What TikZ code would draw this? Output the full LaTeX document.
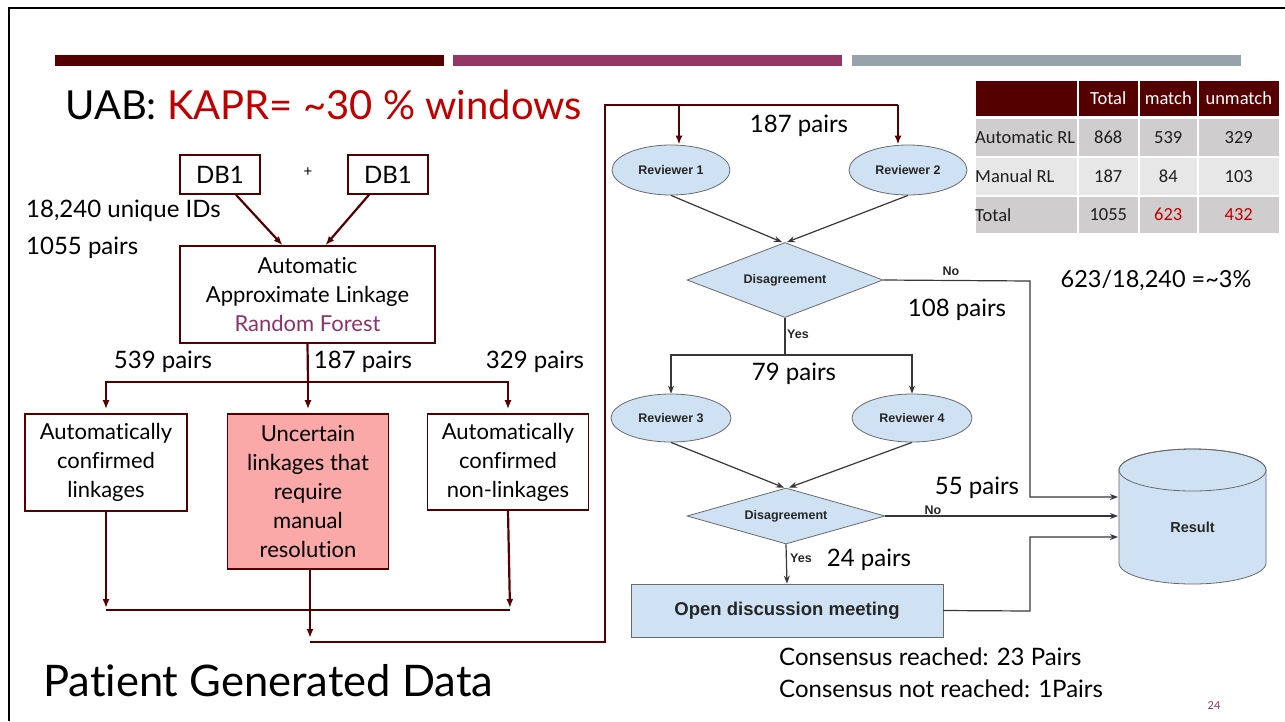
\documentclass[tikz,border=0pt]{standalone}
\usepackage{fontspec}
\setmainfont{Lato}[Ligatures=NoCommon]
\newfontfamily\flowfont{Liberation Sans}
\newfontfamily\tabfont{Carlito}[Ligatures=NoCommon]
\usetikzlibrary{shapes.geometric,arrows.meta}

\definecolor{maroon}{RGB}{85,0,0}
\definecolor{plum}{RGB}{148,54,100}
\definecolor{slate}{RGB}{152,162,171}
\definecolor{titlered}{RGB}{192,0,0}
\definecolor{pinkfill}{RGB}{250,168,168}
\definecolor{flowblue}{RGB}{207,226,243}
\definecolor{flowedge}{RGB}{105,105,105}
\definecolor{flowline}{RGB}{55,55,55}
\definecolor{cellA}{RGB}{207,205,205}
\definecolor{cellB}{RGB}{232,231,231}
\definecolor{forest}{RGB}{140,50,105}
\definecolor{celltext}{RGB}{30,30,30}

\newcommand\setfs[2]{\fontsize{#1}{#2}\selectfont}

\begin{document}
\begin{tikzpicture}[x=1pt,y=-1pt,
  lbox/.style={draw=maroon, line width=1.6pt, align=center, inner sep=0pt, font=\setfs{22}{29}},
  lbl/.style={inner sep=0pt, font=\setfs{24}{29}},
  larrow/.style={draw=maroon, line width=2.2pt, -{Latex[length=9pt,width=7pt]}},
  lline/.style={draw=maroon, line width=2.2pt},
  flownode/.style={draw=flowedge, fill=flowblue, line width=0.8pt, inner sep=0pt,
                   font=\flowfont\bfseries\setfs{12.5}{14}, text=black!85},
  flowlbl/.style={inner sep=0pt, font=\flowfont\bfseries\setfs{12.5}{14}, text=black!85},
  farrow/.style={draw=flowline, line width=1.2pt, -{Stealth[length=8pt,width=6pt]}},
  fline/.style={draw=flowline, line width=1.2pt},
  cell/.style={draw=white, line width=1.5pt, inner sep=0pt, anchor=north west,
               text=celltext, font=\tabfont\setfs{18.5}{20}},
]
\useasboundingbox (0,0) rectangle (1285,721);

% slide frame and header bars
\draw[line width=2.5pt] (9,721) -- (9,8) -- (1285,8);
\fill[maroon] (55,55) rectangle (444,66);
\fill[plum]   (453,55) rectangle (842,66);
\fill[slate]  (852,55) rectangle (1241,66);

% titles
\node[anchor=base west, inner sep=0pt, font=\setfs{40}{40}] (title) at (65,119)
  {UAB: \textcolor{titlered}{KAPR= \textasciitilde30 \% windows}};
\node[anchor=base west, inner sep=0pt, font=\setfs{43.5}{44}] (footer) at (43,696)
  {Patient Generated Data};

% ---------- automatic linkage pipeline ----------
\node[lbox, font=\setfs{24}{29}, minimum width=80, minimum height=39] (dba) at (220,174.5) {DB1};
\node[lbox, font=\setfs{24}{29}, minimum width=80, minimum height=39] (dbb) at (388,174.5) {DB1};
\node[inner sep=0pt, font=\setfs{15}{15}] (plus) at (308,172) {+};
\node[lbl, anchor=west] (ids) at (26,211) {18,240 unique IDs};
\node[lbl, anchor=west] (prs) at (26,248) {1055 pairs};

\node[lbox, minimum width=255, minimum height=97] (auto) at (307.5,294.5)
  {Automatic\\Approximate Linkage\\\textcolor{forest}{Random Forest}};

\draw[larrow] ([xshift=16]dba.south) -- ([xshift=-25]auto.north);
\draw[larrow] ([xshift=-19]dbb.south) -- ([xshift=18]auto.north);

\node[lbox, minimum width=162, minimum height=97] (conf) at (106,462.5)
  {Automatically\\confirmed\\linkages};
\node[lbox, fill=pinkfill, minimum width=161, minimum height=155] (unc) at (308,491.5)
  {Uncertain\\linkages that\\require\\manual\\resolution};
\node[lbox, minimum width=161, minimum height=96] (nonl) at (508,462)
  {Automatically\\confirmed\\non-linkages};

\node[lbl] (l539) at (163,362) {539 pairs};
\node[lbl] (l187) at (363,362) {187 pairs};
\node[lbl] (l329) at (535,362) {329 pairs};

\coordinate (split) at (308,382);
\draw[lline] (auto.south) -- (split);
\draw[larrow, shorten >=4pt] (split) -| (conf.north);
\draw[larrow, shorten >=4pt] (split) -| (nonl.north);
\draw[larrow, shorten >=4pt] (split) -- (unc.north);

\coordinate (mergeL) at (106,610);
\coordinate (mergeR) at (510,610);
\draw[larrow, shorten >=2pt] (conf.south) -- (mergeL);
\draw[larrow, shorten >=2pt] (nonl.south) -- (mergeR);
\draw[lline] (mergeL) -- (mergeR);

\coordinate (loopS) at (310,642);
\coordinate (loopC) at (605,642);
\coordinate (loopT) at (605,105);
\coordinate (topA) at (679,105);
\coordinate (topB) at (898,105);
\draw[larrow, shorten >=4pt] (unc.south -| loopS) -- (loopS);
\draw[lline] (loopS) -- (loopC) -- (loopT) -- (topB);

% ---------- manual review flow ----------
\node[flownode, ellipse, minimum width=118, minimum height=50] (rv1) at (671,170) {Reviewer 1};
\node[flownode, ellipse, minimum width=118, minimum height=50] (rv2) at (908,170) {Reviewer 2};
\draw[larrow] (topA) -- (topA |- rv1.north);
\draw[larrow] (topB) -- (topB |- rv2.north);
\node[lbl] (l187b) at (799,126) {187 pairs};

\node[flownode, diamond, aspect=2.6, minimum width=196, minimum height=75] (dis1) at (785,280) {Disagreement};
\draw[farrow] (rv1.south) -- ([xshift=-3]dis1.north);
\draw[farrow] (rv2.south) -- ([xshift=2]dis1.north);

\node[flowlbl] (no1) at (951,271) {No};
\node[lbl] (l108) at (957,310) {108 pairs};
\node[flowlbl, anchor=west] (yes1) at (787,334) {Yes};

\coordinate (ysplit) at (785,355);
\node[flownode, ellipse, minimum width=120, minimum height=48] (rv3) at (671,418) {Reviewer 3};
\node[flownode, ellipse, minimum width=120, minimum height=48] (rv4) at (912,418) {Reviewer 4};
\draw[fline] (dis1.south) -- (ysplit);
\draw[farrow] (ysplit) -| (rv3.north);
\draw[farrow] (ysplit) -| (rv4.north);
\node[lbl] (l79) at (794,374) {79 pairs};

\node[flownode, diamond, aspect=3.5, minimum width=198, minimum height=56] (dis2) at (786,516) {Disagreement};
\draw[farrow] (rv3.south) -- ([xshift=-2]dis2.north);
\draw[farrow] (rv4.south) -- ([xshift=3]dis2.north);

\node[flownode, rectangle, minimum width=312, minimum height=53,
      font=\flowfont\bfseries\setfs{18.5}{20}] (meet) at (787,610.5) {Open discussion meeting};
\draw[farrow] (dis2.south) -- (meet.north);
\node[flowlbl, anchor=west] (yes2) at (790,558) {Yes};
\node[lbl] (l24) at (869,560) {24 pairs};
\node[flowlbl] (no2) at (933,510) {No};
\node[lbl] (l55) at (977,488) {55 pairs};

% result store (cylinder)
\node[minimum width=147, minimum height=135, inner sep=0pt] (res) at (1192.5,516.5) {};
\path[fill=flowblue, draw=flowedge, line width=0.8pt]
  (1119,470) -- (1119,563) arc[start angle=180, end angle=360, x radius=73.5pt, y radius=21pt]
  -- (1266,470) arc[start angle=0, end angle=180, x radius=73.5pt, y radius=21pt] -- cycle;
\draw[flowedge, line width=0.8pt] (1192.5,470) ellipse [x radius=73.5pt, y radius=21pt];
\node[flowlbl, font=\flowfont\bfseries\setfs{14.5}{16}] (reslbl) at (1192.5,527) {Result};

\coordinate (in1) at (1118,497);
\coordinate (in2) at (1118,516);
\coordinate (in3) at (1118,537);
\coordinate (bendA) at (1030,281);
\coordinate (bendB) at (1030,611);
\draw[farrow] (dis1.east) -- (bendA) |- (in1);
\draw[farrow] (dis2.east) -- (in2);
\draw[farrow] (meet.east) -- (bendB) |- (in3);

\node[inner sep=0pt, anchor=west, align=left, font=\setfs{24}{32}] (cons) at (779,673)
  {Consensus reached: 23 Pairs\\Consensus not reached: 1Pairs};

% ---------- summary table ----------
\fill[maroon] (974,79) rectangle (1279,116);
\node[cell, fill=maroon, minimum width=103, minimum height=37] (h0) at (974,79) {};
\node[cell, fill=maroon, text=white, minimum width=61, minimum height=37] (h1) at (1077,79) {Total};
\node[cell, fill=maroon, text=white, minimum width=59, minimum height=37] (h2) at (1138,79) {match};
\node[cell, fill=maroon, text=white, minimum width=82, minimum height=37] (h3) at (1197,79) {unmatch};

\node[cell, fill=cellA, minimum width=103, minimum height=39] (a0) at (974,117) {};
\node[cell, fill=cellA, minimum width=61, minimum height=39] (a1) at (1077,117) {868};
\node[cell, fill=cellA, minimum width=59, minimum height=39] (a2) at (1138,117) {539};
\node[cell, fill=cellA, minimum width=82, minimum height=39] (a3) at (1197,117) {329};

\node[cell, fill=cellB, minimum width=103, minimum height=39] (b0) at (974,156) {};
\node[cell, fill=cellB, minimum width=61, minimum height=39] (b1) at (1077,156) {187};
\node[cell, fill=cellB, minimum width=59, minimum height=39] (b2) at (1138,156) {84};
\node[cell, fill=cellB, minimum width=82, minimum height=39] (b3) at (1197,156) {103};

\node[cell, fill=cellA, minimum width=103, minimum height=38] (c0) at (974,195) {};
\node[cell, fill=cellA, minimum width=61, minimum height=38] (c1) at (1077,195) {1055};
\node[cell, fill=cellA, text=titlered, minimum width=59, minimum height=38] (c2) at (1138,195) {623};
\node[cell, fill=cellA, text=titlered, minimum width=82, minimum height=38] (c3) at (1197,195) {432};

\node[inner sep=0pt, anchor=west, text=celltext, font=\tabfont\setfs{18.5}{20}] at ([xshift=1]a0.west) {Automatic RL};
\node[inner sep=0pt, anchor=west, text=celltext, font=\tabfont\setfs{18.5}{20}] at ([xshift=1]b0.west) {Manual RL};
\node[inner sep=0pt, anchor=west, text=celltext, font=\tabfont\setfs{18.5}{20}] at ([xshift=1]c0.west) {Total};

\node[inner sep=0pt, font=\setfs{23.5}{24}] (ratio) at (1156,280) {623/18,240 =\textasciitilde3\%};

\node[inner sep=0pt, text=plum, font=\setfs{11}{11}] (pg) at (1214,706) {24};
\end{tikzpicture}
\end{document}
